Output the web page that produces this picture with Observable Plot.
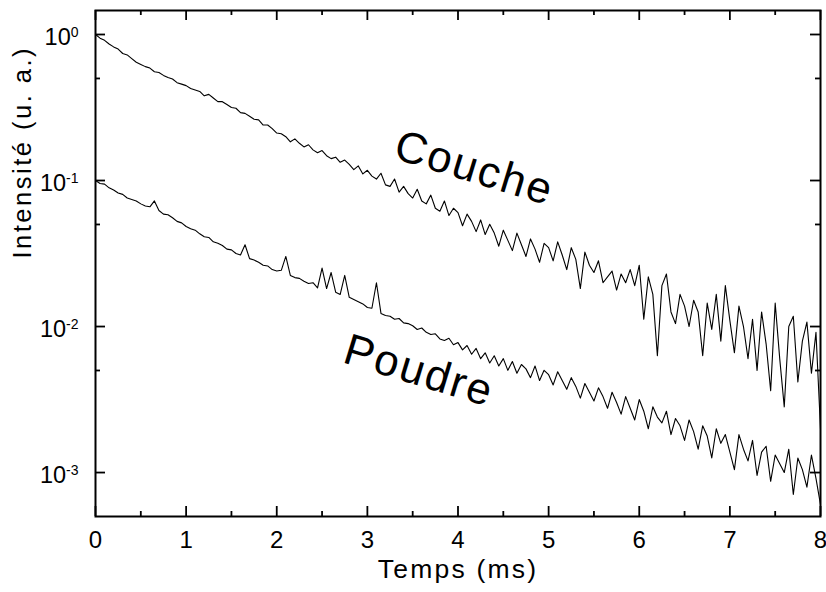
<!DOCTYPE html>
<html>
<head>
<meta charset="utf-8">
<script src="https://cdn.jsdelivr.net/npm/d3@7"></script>
<script src="https://cdn.jsdelivr.net/npm/@observablehq/plot@0.6"></script>
<style>
  html, body { margin: 0; padding: 0; background: #fff; }
  svg { display: block; }
</style>
</head>
<body>
<div id="chart"></div>
<script>
// Sampling step of the decay curves (ms)
const timeStep = 0.05;

// log10 of the intensity (u. a.), one value every 0.05 ms from 0 to 8 ms
const coucheLog10 = [
  0.00, -0.025, -0.04, -0.065, -0.085, -0.10, -0.13, -0.14, -0.165, -0.19,
  -0.205, -0.22, -0.23, -0.255, -0.26, -0.28, -0.295, -0.305, -0.33, -0.34,
  -0.35, -0.37, -0.38, -0.39, -0.42, -0.41, -0.435, -0.46, -0.46, -0.48,
  -0.50, -0.505, -0.535, -0.54, -0.56, -0.58, -0.585, -0.62, -0.62, -0.645,
  -0.675, -0.68, -0.70, -0.735, -0.715, -0.745, -0.77, -0.755, -0.79, -0.81,
  -0.795, -0.83, -0.85, -0.84, -0.875, -0.86, -0.89, -0.925, -0.90, -0.955,
  -0.93, -0.97, -0.99, -0.95, -1.03, -1.04, -0.99, -1.08, -1.04, -1.09,
  -1.12, -1.06, -1.14, -1.16, -1.10, -1.19, -1.21, -1.14, -1.24, -1.19,
  -1.22, -1.31, -1.23, -1.28, -1.35, -1.27, -1.37, -1.30, -1.36, -1.45,
  -1.34, -1.41, -1.48, -1.36, -1.44, -1.52, -1.40, -1.47, -1.56, -1.43,
  -1.46, -1.55, -1.42, -1.51, -1.61, -1.46, -1.54, -1.74, -1.49, -1.58,
  -1.63, -1.55, -1.70, -1.66, -1.62, -1.75, -1.64, -1.70, -1.61, -1.72,
  -1.58, -1.95, -1.66, -1.78, -2.20, -1.72, -1.64, -1.90, -1.98, -1.78,
  -1.86, -2.00, -1.82, -1.90, -2.20, -1.84, -2.02, -1.78, -2.10, -1.72,
  -1.96, -2.18, -1.86, -2.00, -2.22, -1.95, -2.30, -1.90, -2.12, -2.44,
  -1.84, -2.22, -2.55, -2.00, -1.93, -2.38, -2.10, -1.97, -2.32, -2.04,
  -2.70
];

const poudreLog10 = [
  -1.00, -1.02, -1.025, -1.05, -1.065, -1.085, -1.095, -1.12, -1.13, -1.14,
  -1.16, -1.175, -1.18, -1.14, -1.205, -1.23, -1.235, -1.255, -1.28, -1.29,
  -1.315, -1.33, -1.34, -1.365, -1.385, -1.39, -1.42, -1.43, -1.445, -1.47,
  -1.475, -1.50, -1.51, -1.44, -1.535, -1.545, -1.56, -1.58, -1.585, -1.61,
  -1.62, -1.615, -1.52, -1.65, -1.665, -1.67, -1.69, -1.705, -1.70, -1.735,
  -1.60, -1.74, -1.63, -1.765, -1.78, -1.65, -1.80, -1.815, -1.83, -1.845,
  -1.87, -1.875, -1.70, -1.91, -1.925, -1.93, -1.95, -1.945, -1.975, -1.98,
  -1.995, -2.02, -2.01, -2.04, -2.055, -2.05, -2.085, -2.095, -2.08, -2.125,
  -2.11, -2.16, -2.13, -2.19, -2.15, -2.22, -2.18, -2.25, -2.20, -2.27,
  -2.22, -2.30, -2.24, -2.32, -2.26, -2.29, -2.35, -2.27, -2.37, -2.30,
  -2.33, -2.40, -2.31, -2.37, -2.43, -2.35, -2.41, -2.49, -2.39, -2.45,
  -2.51, -2.42, -2.48, -2.56, -2.45, -2.52, -2.60, -2.48, -2.56, -2.64,
  -2.50, -2.58, -2.70, -2.55, -2.62, -2.66, -2.58, -2.74, -2.63, -2.68,
  -2.78, -2.64, -2.72, -2.84, -2.68, -2.75, -2.90, -2.70, -2.80, -2.74,
  -2.86, -2.98, -2.74, -2.84, -2.92, -2.78, -3.02, -2.86, -2.82, -3.06,
  -2.88, -2.94, -3.00, -2.84, -3.15, -2.90, -2.98, -3.10, -2.88, -3.04,
  -3.22
];

// Axis ticks
const xTicks = [0, 1, 2, 3, 4, 5, 6, 7, 8];
const xMinorTicks = [0.5, 1.5, 2.5, 3.5, 4.5, 5.5, 6.5, 7.5];
const yTicks = [1, 0.1, 0.01, 0.001];
const yTickExponents = ["0", "-1", "-2", "-3"];
const yMinorTicks = [0.5, 0.05, 0.005];

// Texts
const xTitle = "Temps (ms)";
const yTitle = "Intensité (u. a.)";
const seriesNames = ["Couche", "Poudre"];
// curve labels: anchor in data space (time ms, intensity)
const curveLabels = [
  {text: "Couche", t: 4.18, v: 0.121},
  {text: "Poudre", t: 3.57, v: 0.00495}
];

// Build tidy tables
const toRows = (arr, name) => arr.map((e, i) => ({t: i * timeStep, v: Math.pow(10, e), serie: name}));
const couche = toRows(coucheLog10, seriesNames[0]);
const poudre = toRows(poudreLog10, seriesNames[1]);

const W = 826, H = 592, mL = 95, mR = 6, mT = 10, mB = 76;
const pw = W - mL - mR, ph = H - mT - mB;
const font = "'Liberation Sans', Arial, Helvetica, sans-serif";

const ctx = document.createElement("canvas").getContext("2d");
ctx.font = "14px 'Liberation Sans'";
const expWidth = s => ctx.measureText(s).width;

const tickRows = yTicks.map((v, i) => ({v, exp: yTickExponents[i]}));

const chart = Plot.plot({
  width: W,
  height: H,
  marginLeft: mL,
  marginRight: mR,
  marginTop: mT,
  marginBottom: mB,
  style: {fontFamily: font, background: "white", color: "black", overflow: "visible"},
  x: {domain: [0, 8], axis: null},
  y: {type: "log", domain: [5.0e-4, 1.46], axis: null},
  marks: [
    Plot.line(couche, {x: "t", y: "v", stroke: "black", strokeWidth: 1.1}),
    Plot.line(poudre, {x: "t", y: "v", stroke: "black", strokeWidth: 1.1}),
    Plot.frame({stroke: "black", strokeWidth: 2}),
    // inward ticks, bottom & top
    Plot.tickX(xTicks, {x: d => d, insetTop: ph - 10, stroke: "black", strokeWidth: 1.8}),
    Plot.tickX(xTicks, {x: d => d, insetBottom: ph - 10, stroke: "black", strokeWidth: 1.8}),
    Plot.tickX(xMinorTicks, {x: d => d, insetTop: ph - 5, stroke: "black", strokeWidth: 1.8}),
    Plot.tickX(xMinorTicks, {x: d => d, insetBottom: ph - 5, stroke: "black", strokeWidth: 1.8}),
    // inward ticks, left & right
    Plot.tickY(yTicks, {y: d => d, insetRight: pw - 10, stroke: "black", strokeWidth: 1.8}),
    Plot.tickY(yTicks, {y: d => d, insetLeft: pw - 10, stroke: "black", strokeWidth: 1.8}),
    Plot.tickY(yMinorTicks, {y: d => d, insetRight: pw - 5, stroke: "black", strokeWidth: 1.8}),
    Plot.tickY(yMinorTicks, {y: d => d, insetLeft: pw - 5, stroke: "black", strokeWidth: 1.8}),
    // x tick labels
    Plot.axisX(xTicks, {anchor: "bottom", tickSize: 0, tickPadding: 14, fontSize: 24, label: null, tickFormat: d => String(d)}),
    // y tick labels 10^n
    Plot.text(tickRows, {y: "v", frameAnchor: "left", text: () => "10", textAnchor: "end", fontSize: 23.5, dy: 3}),
    Plot.text(tickRows, {y: "v", frameAnchor: "left", text: "exp", textAnchor: "end", dx: -17, dy: -2, fontSize: 14}),
    // titles
    Plot.text([xTitle], {frameAnchor: "bottom", text: d => d, dy: 61, fontSize: 26.5}),
    Plot.text([yTitle], {frameAnchor: "left", text: d => d, rotate: -90, dx: -73, dy: -5, fontSize: 25.5}),
    // curve labels
    Plot.text(curveLabels, {x: "t", y: "v", text: "text", rotate: 17, fontSize: 44})
  ]
});

d3.select(chart).selectAll("text").each(function() {
  const el = d3.select(this);
  const txt = this.textContent;
  if (txt === xTitle) el.attr("letter-spacing", 2.2);
  if (txt === yTitle) el.attr("letter-spacing", 2.5);
  if (txt === "Couche" || txt === "Poudre") el.attr("letter-spacing", 2);
});
// position the mantissas "10" just before their exponent
const tens = d3.select(chart).selectAll("text").filter(function() { return this.textContent === "10"; });
tens.each(function(d, i) {
  const s = yTickExponents[i];
  const shift = -17 - expWidth(s);
  const tr = d3.select(this).attr("transform") || "";
  d3.select(this).attr("transform", tr + ` translate(${shift},0)`);
});

document.getElementById("chart").appendChild(chart);
</script>
</body>
</html>
